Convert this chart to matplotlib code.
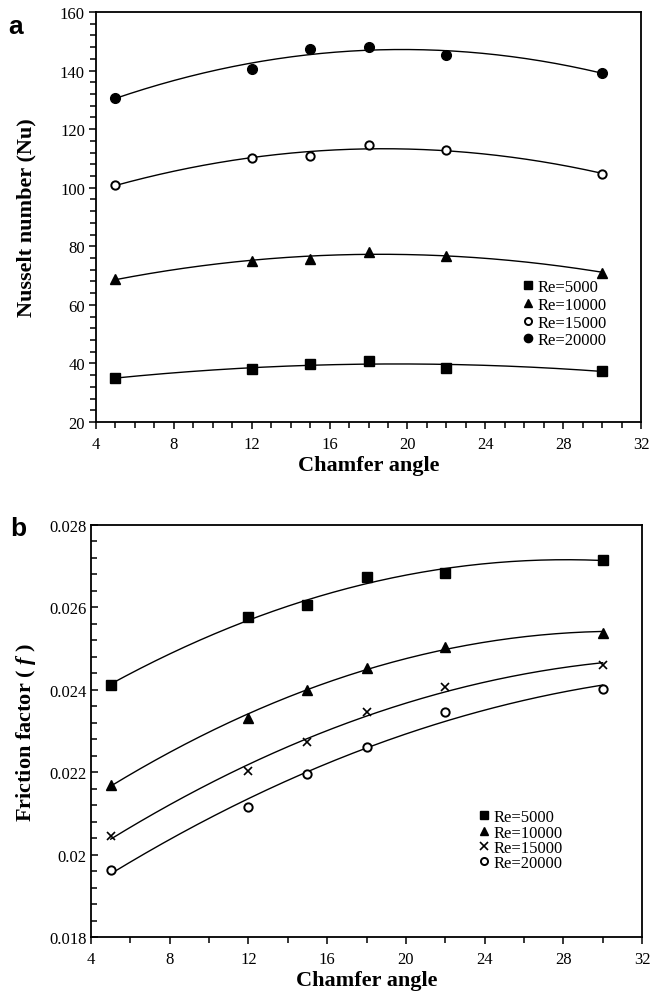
import numpy as np
import matplotlib
matplotlib.use("Agg")
import matplotlib.pyplot as plt
from matplotlib.ticker import MultipleLocator, FuncFormatter

plt.rcParams["font.family"] = ["Liberation Serif", "DejaVu Serif"]
plt.rcParams["mathtext.fontset"] = "custom"
plt.rcParams["mathtext.it"] = "Liberation Serif:italic:bold"

# chamfer angles (degrees)
angle = [5, 12, 15, 18, 22, 30]
re_labels = ["Re=5000", "Re=10000", "Re=15000", "Re=20000"]

# panel a: Nusselt number
nu_5000 = [35.0, 38.0, 39.8, 40.8, 38.5, 37.5]
nu_10000 = [68.8, 75.0, 75.8, 78.2, 76.8, 71.0]
nu_15000 = [101.0, 110.3, 110.7, 114.7, 112.8, 104.7]
nu_20000 = [130.8, 140.5, 147.3, 148.1, 145.4, 139.3]

# panel b: friction factor
f_5000 = [0.02412, 0.02577, 0.02605, 0.02673, 0.02684, 0.02716]
f_10000 = [0.02170, 0.02332, 0.02400, 0.02453, 0.02503, 0.02539]
f_15000 = [0.02045, 0.02203, 0.02274, 0.02346, 0.02407, 0.02460]
f_20000 = [0.01963, 0.02116, 0.02195, 0.02261, 0.02346, 0.02403]

fig = plt.figure(figsize=(6.63, 10.03), dpi=100)
ax_a = fig.add_axes([96 / 663, 1 - 423 / 1003, 545 / 663, 410 / 1003])
ax_b = fig.add_axes([91 / 663, 1 - 938 / 1003, 551 / 663, 412 / 1003])

xs = np.linspace(5, 30, 200)


def draw_series(ax, ys, style, deg):
    coef = np.polyfit(angle, ys, deg)
    ax.plot(xs, np.polyval(coef, xs), color="black", lw=1.0, zorder=2)
    ax.plot(angle, ys, linestyle="none", zorder=3, **style)


sty_sq = dict(marker="s", ms=6.5, color="black")
sty_tri = dict(marker="^", ms=6.5, color="black")
sty_open = dict(marker="o", ms=6, mfc="white", mec="black", mew=1.4)
sty_dot = dict(marker="o", ms=7, color="black")
sty_x = dict(marker="x", ms=6, color="black", mew=1.2)

for ys, sty in zip([nu_5000, nu_10000, nu_15000, nu_20000],
                   [sty_sq, sty_tri, sty_open, sty_dot]):
    draw_series(ax_a, ys, sty, 2)

for ys, sty in zip([f_5000, f_10000, f_15000, f_20000],
                   [sty_sq, sty_tri, sty_x, sty_open]):
    draw_series(ax_b, ys, sty, 2)

ax_a.set_xlim(4, 32)
ax_a.set_ylim(20, 160)
ax_a.xaxis.set_major_locator(MultipleLocator(4))
ax_a.xaxis.set_minor_locator(MultipleLocator(1))
ax_a.yaxis.set_major_locator(MultipleLocator(20))
ax_a.yaxis.set_minor_locator(MultipleLocator(4))

ax_b.set_xlim(4, 32)
ax_b.set_ylim(0.018, 0.028)
ax_b.xaxis.set_major_locator(MultipleLocator(4))
ax_b.xaxis.set_minor_locator(MultipleLocator(2))
ax_b.yaxis.set_major_locator(MultipleLocator(0.002))
ax_b.yaxis.set_minor_locator(MultipleLocator(0.0004))
ax_b.yaxis.set_major_formatter(FuncFormatter(lambda v, p: "%g" % round(v, 4)))

for ax, ydir in [(ax_a, "out"), (ax_b, "in")]:
    for s in ax.spines.values():
        s.set_linewidth(1.3)
    ax.tick_params(axis="both", which="both", top=False, right=False,
                   labelsize=12, width=1.1)
    ax.tick_params(axis="x", which="major", direction="out", length=5, pad=5)
    ax.tick_params(axis="x", which="minor", direction="out", length=4)
    ax.tick_params(axis="y", which="major", direction=ydir, length=5, pad=3)
    ax.tick_params(axis="y", which="minor", direction=ydir, length=4)
    ax.set_xlabel("Chamfer angle", fontsize=16, fontweight="bold", labelpad=2)

ax_a.set_ylabel("Nusselt number (Nu)", fontsize=16, fontweight="bold", labelpad=17)
ax_b.set_ylabel(r"Friction factor ( $f$ )", fontsize=16, fontweight="bold", labelpad=8)

leg_a = ax_a.legend([plt.Line2D([], [], linestyle="none", **s)
                     for s in [sty_sq, sty_tri, sty_open, sty_dot]],
                    re_labels, loc="upper left", bbox_to_anchor=(0.785, 0.348),
                    frameon=False, fontsize=12, handlelength=0.5,
                    handletextpad=0.35, labelspacing=0.1, borderpad=0,
                    borderaxespad=0, markerscale=0.85)
leg_b = ax_b.legend([plt.Line2D([], [], linestyle="none", **s)
                     for s in [sty_sq, sty_tri, sty_x, sty_open]],
                    re_labels, loc="upper left", bbox_to_anchor=(0.705, 0.31),
                    frameon=False, fontsize=12, handlelength=0.5,
                    handletextpad=0.35, labelspacing=-0.04, borderpad=0,
                    borderaxespad=0, markerscale=0.85)

fig.text(0.012, 0.985, "a", fontsize=19, fontweight="bold",
         family=["Liberation Sans", "DejaVu Sans"], va="top")
fig.text(0.015, 0.485, "b", fontsize=19, fontweight="bold",
         family=["Liberation Sans", "DejaVu Sans"], va="top")

fig.savefig("out.png", dpi=100)
